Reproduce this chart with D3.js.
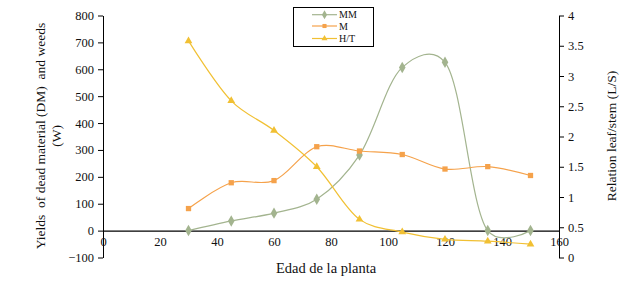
<!DOCTYPE html>
<html>
<head>
<meta charset="utf-8">
<script src="https://cdn.jsdelivr.net/npm/d3@7"></script>
<style>
  body { margin: 0; background: #fff; }
  svg { display: block; font-family: "Liberation Serif", "Times New Roman", serif; }
</style>
</head>
<body>
<svg id="chart" width="626" height="288"></svg>
<script>
// plant age (days)
var ages = [30, 45, 60, 75, 90, 105, 120, 135, 150];
// left axis series
var mmValues = [0, 36, 65, 117, 281, 607, 626, 0, 0];
var mValues = [82, 178, 186, 312, 296, 283, 229, 238, 205];
// right axis series (leaf/stem)
var htValues = [3.58, 2.59, 2.1, 1.5, 0.63, 0.42, 0.3, 0.27, 0.22];

var xTicks = [0, 20, 40, 60, 80, 100, 120, 140, 160];
var leftTicks = [-100, 0, 100, 200, 300, 400, 500, 600, 700, 800];
var rightTicks = [0, 0.5, 1, 1.5, 2, 2.5, 3, 3.5, 4];

var svg = d3.select("#chart");

var x = d3.scaleLinear().domain([0, 160]).range([103, 559]);
var yL = d3.scaleLinear().domain([-100, 800]).range([257.5, 15.5]);
var yR = d3.scaleLinear().domain([0, 4]).range([257.5, 15.5]);

var series = [
  {name: "MM", values: mmValues, y: yL, color: "#a3b48f", sym: d3.symbolDiamond, size: 38},
  {name: "M", values: mValues, y: yL, color: "#f5a24b", sym: d3.symbolSquare, size: 28},
  {name: "H/T", values: htValues, y: yR, color: "#f1c033", sym: d3.symbolTriangle, size: 26}
];

// left axis
var gl = svg.append("g")
    .attr("transform", "translate(" + x(0) + ",0)")
    .call(d3.axisLeft(yL).tickValues(leftTicks).tickSize(5).tickSizeOuter(0).tickPadding(4));

// right axis
var gr = svg.append("g")
    .attr("transform", "translate(" + x(160) + ",0)")
    .call(d3.axisRight(yR).tickValues(rightTicks).tickFormat(d3.format("")).tickSize(5).tickSizeOuter(0).tickPadding(4));

// x axis at zero
var gx = svg.append("g")
    .attr("transform", "translate(0," + yL(0) + ")")
    .call(d3.axisBottom(x).tickValues(xTicks).tickSize(0).tickPadding(7));
gx.select(".domain").attr("stroke-width", 1.3);

[gl, gr, gx].forEach(function(g) {
  g.selectAll("text").attr("font-family", "Liberation Serif").attr("font-size", 12.5).attr("fill", "#111");
  g.selectAll("line, .domain").attr("stroke", "#000");
});

// smoothed lines + markers
var lineGen = function(s) {
  return d3.line()
    .x(function(d, i) { return x(ages[i]); })
    .y(function(d) { return s.y(d); })
    .curve(d3.curveCatmullRom.alpha(0.25));
};

series.forEach(function(s) {
  svg.append("path")
      .attr("d", lineGen(s)(s.values))
      .attr("fill", "none")
      .attr("stroke", s.color)
      .attr("stroke-width", 1.2);
  svg.append("g").selectAll("path")
      .data(s.values)
    .enter().append("path")
      .attr("transform", function(d, i) { return "translate(" + x(ages[i]) + "," + s.y(d) + ")"; })
      .attr("d", d3.symbol().type(s.sym).size(s.size))
      .attr("fill", s.color);
});

// axis titles
svg.append("text")
    .attr("transform", "translate(45,136) rotate(-90)")
    .attr("text-anchor", "middle")
    .attr("font-size", 13.5)
    .attr("fill", "#111")
    .attr("xml:space", "preserve")
    .text("Yields  of dead material (DM)  and weeds");
svg.append("text")
    .attr("transform", "translate(61,136) rotate(-90)")
    .attr("text-anchor", "middle")
    .attr("font-size", 13.5)
    .attr("fill", "#111")
    .text("(W)");
svg.append("text")
    .attr("transform", "translate(616,136) rotate(-90)")
    .attr("text-anchor", "middle")
    .attr("font-size", 13.5)
    .attr("fill", "#111")
    .text("Relation leaf/stem (L/S)");
svg.append("text")
    .attr("x", 326)
    .attr("y", 273)
    .attr("text-anchor", "middle")
    .attr("font-size", 14.5)
    .attr("fill", "#111")
    .text("Edad de la planta");

// legend
var lg = svg.append("g");
lg.append("rect")
    .attr("x", 293.5).attr("y", 7.5)
    .attr("width", 80).attr("height", 39)
    .attr("fill", "#fff").attr("stroke", "#000");
var items = lg.selectAll("g.item")
    .data(series)
  .enter().append("g")
    .attr("transform", function(d, i) { return "translate(0," + [14.7, 26, 38.5][i] + ")"; });
items.append("line")
    .attr("x1", 312).attr("x2", 337)
    .attr("stroke", function(d) { return d.color; })
    .attr("stroke-width", 1.2);
items.append("path")
    .attr("transform", "translate(324.5,0)")
    .attr("d", function(d) { return d3.symbol().type(d.sym).size(d.size * 0.6)(); })
    .attr("fill", function(d) { return d.color; });
items.append("text")
    .attr("x", 339)
    .attr("dy", "0.35em")
    .attr("font-size", 10)
    .attr("fill", "#111")
    .text(function(d) { return d.name; });
</script>
</body>
</html>
